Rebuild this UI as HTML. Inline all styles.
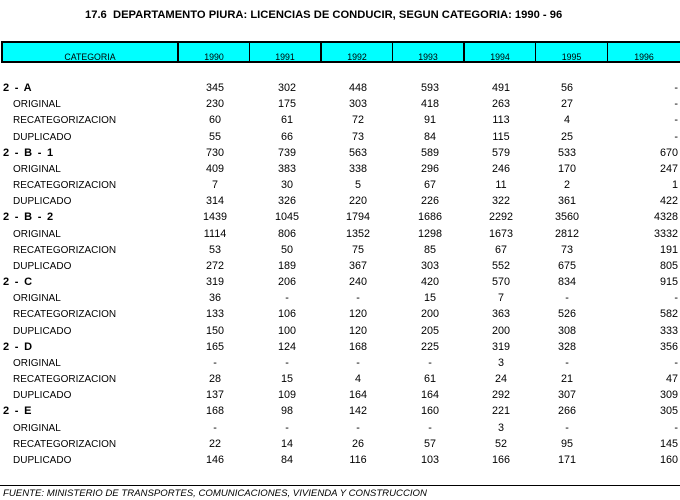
<!DOCTYPE html>
<html>
<head>
<meta charset="utf-8">
<style>
html,body{margin:0;padding:0;background:#fff;}
body{width:680px;height:500px;position:relative;overflow:hidden;font-family:"Liberation Sans",Arial,sans-serif;color:#000;}
.title{position:absolute;left:85px;top:9px;height:13px;line-height:13px;font-size:11.2px;font-weight:bold;white-space:nowrap;}
.hdr{position:absolute;left:1px;top:41px;width:679px;height:22px;background:#00ffff;border-top:2px solid #000;border-bottom:2px solid #000;border-left:2px solid #000;box-sizing:border-box;}
.sep{position:absolute;top:41px;height:22px;background:#000;}
.hl{position:absolute;top:52px;height:10px;line-height:10px;font-size:8.8px;text-align:center;white-space:nowrap;}
.r{position:absolute;left:0;width:680px;height:16px;line-height:16px;font-size:10px;white-space:nowrap;}
.b{position:absolute;left:3px;top:0;font-weight:bold;font-size:11px;letter-spacing:1.3px;}
.s{position:absolute;left:13px;top:1px;}
.c{position:absolute;top:0;width:72px;text-align:center;font-size:10.8px;}
.c0{left:179px}.c1{left:251px}.c2{left:322px}.c3{left:394px}.c4{left:465px}.c5{left:531px}
.c6{left:606px;text-align:right;width:72px;}
.line{position:absolute;left:0;top:485px;width:680px;height:1px;background:#000;}
.foot{position:absolute;left:3px;top:488px;height:12px;line-height:12px;font-size:9.6px;font-style:italic;white-space:nowrap;}
</style>
</head>
<body>
<div class="title">17.6&nbsp; DEPARTAMENTO PIURA: LICENCIAS DE CONDUCIR, SEGUN CATEGORIA: 1990 - 96</div>

<div class="hdr"></div>
<div class="sep" style="left:177px;width:2px"></div>
<div class="sep" style="left:249px;width:1px"></div>
<div class="sep" style="left:320px;width:2px"></div>
<div class="sep" style="left:392px;width:1px"></div>
<div class="sep" style="left:463px;width:2px"></div>
<div class="sep" style="left:535px;width:1px"></div>
<div class="sep" style="left:607px;width:1px"></div>

<div class="hl" style="left:3px;width:174px">CATEGORIA</div>
<div class="hl" style="left:179px;width:70px">1990</div>
<div class="hl" style="left:250px;width:70px">1991</div>
<div class="hl" style="left:322px;width:70px">1992</div>
<div class="hl" style="left:393px;width:70px">1993</div>
<div class="hl" style="left:465px;width:70px">1994</div>
<div class="hl" style="left:536px;width:71px">1995</div>
<div class="hl" style="left:608px;width:72px">1996</div>

<div class="r" style="top:80px"><span class="b">2 - A</span><span class="c c0">345</span><span class="c c1">302</span><span class="c c2">448</span><span class="c c3">593</span><span class="c c4">491</span><span class="c c5">56</span><span class="c c6">-</span></div>
<div class="r" style="top:96.17px"><span class="s">ORIGINAL</span><span class="c c0">230</span><span class="c c1">175</span><span class="c c2">303</span><span class="c c3">418</span><span class="c c4">263</span><span class="c c5">27</span><span class="c c6">-</span></div>
<div class="r" style="top:112.35px"><span class="s">RECATEGORIZACION</span><span class="c c0">60</span><span class="c c1">61</span><span class="c c2">72</span><span class="c c3">91</span><span class="c c4">113</span><span class="c c5">4</span><span class="c c6">-</span></div>
<div class="r" style="top:128.52px"><span class="s">DUPLICADO</span><span class="c c0">55</span><span class="c c1">66</span><span class="c c2">73</span><span class="c c3">84</span><span class="c c4">115</span><span class="c c5">25</span><span class="c c6">-</span></div>

<div class="r" style="top:144.7px"><span class="b">2 - B - 1</span><span class="c c0">730</span><span class="c c1">739</span><span class="c c2">563</span><span class="c c3">589</span><span class="c c4">579</span><span class="c c5">533</span><span class="c c6">670</span></div>
<div class="r" style="top:160.87px"><span class="s">ORIGINAL</span><span class="c c0">409</span><span class="c c1">383</span><span class="c c2">338</span><span class="c c3">296</span><span class="c c4">246</span><span class="c c5">170</span><span class="c c6">247</span></div>
<div class="r" style="top:177.04px"><span class="s">RECATEGORIZACION</span><span class="c c0">7</span><span class="c c1">30</span><span class="c c2">5</span><span class="c c3">67</span><span class="c c4">11</span><span class="c c5">2</span><span class="c c6">1</span></div>
<div class="r" style="top:193.22px"><span class="s">DUPLICADO</span><span class="c c0">314</span><span class="c c1">326</span><span class="c c2">220</span><span class="c c3">226</span><span class="c c4">322</span><span class="c c5">361</span><span class="c c6">422</span></div>

<div class="r" style="top:209.39px"><span class="b">2 - B - 2</span><span class="c c0">1439</span><span class="c c1">1045</span><span class="c c2">1794</span><span class="c c3">1686</span><span class="c c4">2292</span><span class="c c5">3560</span><span class="c c6">4328</span></div>
<div class="r" style="top:225.57px"><span class="s">ORIGINAL</span><span class="c c0">1114</span><span class="c c1">806</span><span class="c c2">1352</span><span class="c c3">1298</span><span class="c c4">1673</span><span class="c c5">2812</span><span class="c c6">3332</span></div>
<div class="r" style="top:241.74px"><span class="s">RECATEGORIZACION</span><span class="c c0">53</span><span class="c c1">50</span><span class="c c2">75</span><span class="c c3">85</span><span class="c c4">67</span><span class="c c5">73</span><span class="c c6">191</span></div>
<div class="r" style="top:257.91px"><span class="s">DUPLICADO</span><span class="c c0">272</span><span class="c c1">189</span><span class="c c2">367</span><span class="c c3">303</span><span class="c c4">552</span><span class="c c5">675</span><span class="c c6">805</span></div>

<div class="r" style="top:274.09px"><span class="b">2 - C</span><span class="c c0">319</span><span class="c c1">206</span><span class="c c2">240</span><span class="c c3">420</span><span class="c c4">570</span><span class="c c5">834</span><span class="c c6">915</span></div>
<div class="r" style="top:290.26px"><span class="s">ORIGINAL</span><span class="c c0">36</span><span class="c c1">-</span><span class="c c2">-</span><span class="c c3">15</span><span class="c c4">7</span><span class="c c5">-</span><span class="c c6">-</span></div>
<div class="r" style="top:306.44px"><span class="s">RECATEGORIZACION</span><span class="c c0">133</span><span class="c c1">106</span><span class="c c2">120</span><span class="c c3">200</span><span class="c c4">363</span><span class="c c5">526</span><span class="c c6">582</span></div>
<div class="r" style="top:322.61px"><span class="s">DUPLICADO</span><span class="c c0">150</span><span class="c c1">100</span><span class="c c2">120</span><span class="c c3">205</span><span class="c c4">200</span><span class="c c5">308</span><span class="c c6">333</span></div>

<div class="r" style="top:338.78px"><span class="b">2 - D</span><span class="c c0">165</span><span class="c c1">124</span><span class="c c2">168</span><span class="c c3">225</span><span class="c c4">319</span><span class="c c5">328</span><span class="c c6">356</span></div>
<div class="r" style="top:354.96px"><span class="s">ORIGINAL</span><span class="c c0">-</span><span class="c c1">-</span><span class="c c2">-</span><span class="c c3">-</span><span class="c c4">3</span><span class="c c5">-</span><span class="c c6">-</span></div>
<div class="r" style="top:371.13px"><span class="s">RECATEGORIZACION</span><span class="c c0">28</span><span class="c c1">15</span><span class="c c2">4</span><span class="c c3">61</span><span class="c c4">24</span><span class="c c5">21</span><span class="c c6">47</span></div>
<div class="r" style="top:387.31px"><span class="s">DUPLICADO</span><span class="c c0">137</span><span class="c c1">109</span><span class="c c2">164</span><span class="c c3">164</span><span class="c c4">292</span><span class="c c5">307</span><span class="c c6">309</span></div>

<div class="r" style="top:403.48px"><span class="b">2 - E</span><span class="c c0">168</span><span class="c c1">98</span><span class="c c2">142</span><span class="c c3">160</span><span class="c c4">221</span><span class="c c5">266</span><span class="c c6">305</span></div>
<div class="r" style="top:419.65px"><span class="s">ORIGINAL</span><span class="c c0">-</span><span class="c c1">-</span><span class="c c2">-</span><span class="c c3">-</span><span class="c c4">3</span><span class="c c5">-</span><span class="c c6">-</span></div>
<div class="r" style="top:435.83px"><span class="s">RECATEGORIZACION</span><span class="c c0">22</span><span class="c c1">14</span><span class="c c2">26</span><span class="c c3">57</span><span class="c c4">52</span><span class="c c5">95</span><span class="c c6">145</span></div>
<div class="r" style="top:452px"><span class="s">DUPLICADO</span><span class="c c0">146</span><span class="c c1">84</span><span class="c c2">116</span><span class="c c3">103</span><span class="c c4">166</span><span class="c c5">171</span><span class="c c6">160</span></div>

<div class="line"></div>
<div class="foot">FUENTE: MINISTERIO DE TRANSPORTES, COMUNICACIONES, VIVIENDA Y CONSTRUCCION</div>
</body>
</html>
